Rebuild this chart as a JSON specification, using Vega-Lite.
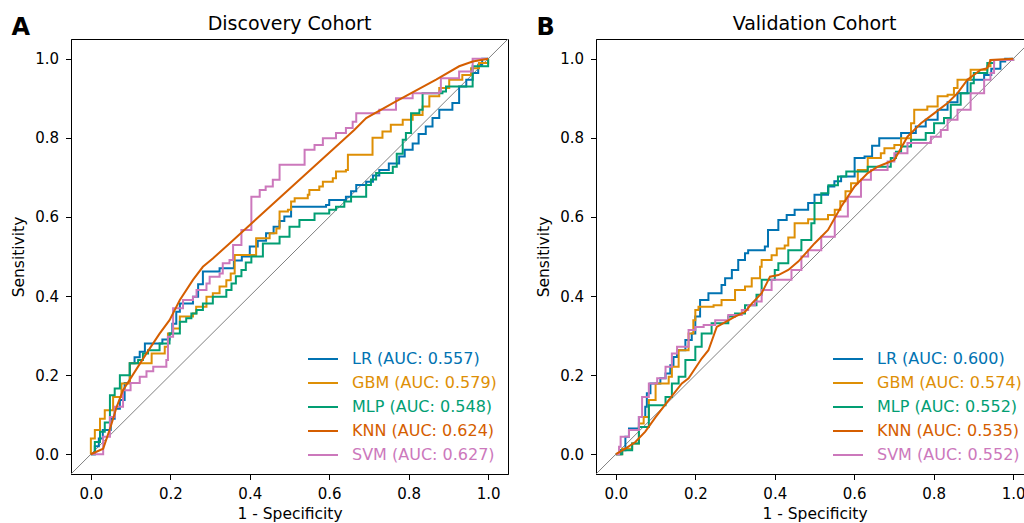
{
  "$schema": "https://vega.github.io/schema/vega-lite/v6.json",
  "padding": {"left": 10, "top": 14, "right": 0, "bottom": 0},
  "spacing": 26,
  "datasets": {
    "diag": [{"x": -0.05, "y": -0.05}, {"x": 1.05, "y": 1.05}],
    "disc": [
      {"m":"LR","x":0,"y":0},{"m":"LR","x":0.01,"y":0.02},{"m":"LR","x":0.02,"y":0.04},{"m":"LR","x":0.03,"y":0.061},{"m":"LR","x":0.05,"y":0.09},{"m":"LR","x":0.06,"y":0.115},{"m":"LR","x":0.073,"y":0.137},{"m":"LR","x":0.085,"y":0.18},{"m":"LR","x":0.098,"y":0.23},{"m":"LR","x":0.11,"y":0.245},{"m":"LR","x":0.123,"y":0.259},{"m":"LR","x":0.136,"y":0.28},{"m":"LR","x":0.165,"y":0.28},{"m":"LR","x":0.18,"y":0.29},{"m":"LR","x":0.198,"y":0.305},{"m":"LR","x":0.205,"y":0.33},{"m":"LR","x":0.215,"y":0.36},{"m":"LR","x":0.224,"y":0.381},{"m":"LR","x":0.257,"y":0.398},{"m":"LR","x":0.27,"y":0.43},{"m":"LR","x":0.282,"y":0.462},{"m":"LR","x":0.324,"y":0.47},{"m":"LR","x":0.349,"y":0.47},{"m":"LR","x":0.36,"y":0.49},{"m":"LR","x":0.38,"y":0.5},{"m":"LR","x":0.4,"y":0.525},{"m":"LR","x":0.42,"y":0.54},{"m":"LR","x":0.441,"y":0.559},{"m":"LR","x":0.46,"y":0.575},{"m":"LR","x":0.475,"y":0.59},{"m":"LR","x":0.487,"y":0.601},{"m":"LR","x":0.504,"y":0.626},{"m":"LR","x":0.592,"y":0.63},{"m":"LR","x":0.6,"y":0.643},{"m":"LR","x":0.642,"y":0.651},{"m":"LR","x":0.655,"y":0.665},{"m":"LR","x":0.668,"y":0.681},{"m":"LR","x":0.693,"y":0.689},{"m":"LR","x":0.71,"y":0.705},{"m":"LR","x":0.726,"y":0.719},{"m":"LR","x":0.75,"y":0.735},{"m":"LR","x":0.776,"y":0.753},{"m":"LR","x":0.79,"y":0.77},{"m":"LR","x":0.81,"y":0.786},{"m":"LR","x":0.825,"y":0.81},{"m":"LR","x":0.843,"y":0.829},{"m":"LR","x":0.86,"y":0.85},{"m":"LR","x":0.877,"y":0.871},{"m":"LR","x":0.91,"y":0.888},{"m":"LR","x":0.927,"y":0.93},{"m":"LR","x":0.945,"y":0.947},{"m":"LR","x":0.961,"y":0.964},{"m":"LR","x":0.975,"y":0.985},{"m":"LR","x":0.985,"y":1.0},{"m":"LR","x":1,"y":1},
      {"m":"GBM","x":0,"y":0},{"m":"GBM","x":0,"y":0.04},{"m":"GBM","x":0.01,"y":0.061},{"m":"GBM","x":0.023,"y":0.09},{"m":"GBM","x":0.035,"y":0.111},{"m":"GBM","x":0.056,"y":0.145},{"m":"GBM","x":0.077,"y":0.179},{"m":"GBM","x":0.098,"y":0.23},{"m":"GBM","x":0.131,"y":0.23},{"m":"GBM","x":0.153,"y":0.255},{"m":"GBM","x":0.186,"y":0.272},{"m":"GBM","x":0.194,"y":0.305},{"m":"GBM","x":0.207,"y":0.318},{"m":"GBM","x":0.224,"y":0.348},{"m":"GBM","x":0.257,"y":0.356},{"m":"GBM","x":0.265,"y":0.373},{"m":"GBM","x":0.291,"y":0.398},{"m":"GBM","x":0.307,"y":0.407},{"m":"GBM","x":0.324,"y":0.424},{"m":"GBM","x":0.341,"y":0.44},{"m":"GBM","x":0.352,"y":0.457},{"m":"GBM","x":0.362,"y":0.504},{"m":"GBM","x":0.412,"y":0.504},{"m":"GBM","x":0.416,"y":0.546},{"m":"GBM","x":0.45,"y":0.559},{"m":"GBM","x":0.467,"y":0.571},{"m":"GBM","x":0.475,"y":0.614},{"m":"GBM","x":0.496,"y":0.618},{"m":"GBM","x":0.504,"y":0.639},{"m":"GBM","x":0.513,"y":0.647},{"m":"GBM","x":0.546,"y":0.656},{"m":"GBM","x":0.55,"y":0.668},{"m":"GBM","x":0.575,"y":0.677},{"m":"GBM","x":0.584,"y":0.689},{"m":"GBM","x":0.609,"y":0.698},{"m":"GBM","x":0.617,"y":0.715},{"m":"GBM","x":0.642,"y":0.719},{"m":"GBM","x":0.647,"y":0.757},{"m":"GBM","x":0.705,"y":0.757},{"m":"GBM","x":0.709,"y":0.8},{"m":"GBM","x":0.734,"y":0.816},{"m":"GBM","x":0.755,"y":0.833},{"m":"GBM","x":0.785,"y":0.846},{"m":"GBM","x":0.81,"y":0.858},{"m":"GBM","x":0.835,"y":0.879},{"m":"GBM","x":0.852,"y":0.905},{"m":"GBM","x":0.877,"y":0.926},{"m":"GBM","x":0.902,"y":0.947},{"m":"GBM","x":0.935,"y":0.959},{"m":"GBM","x":0.957,"y":0.976},{"m":"GBM","x":0.977,"y":0.989},{"m":"GBM","x":1,"y":1},
      {"m":"MLP","x":0,"y":0},{"m":"MLP","x":0.01,"y":0.031},{"m":"MLP","x":0.023,"y":0.057},{"m":"MLP","x":0.035,"y":0.08},{"m":"MLP","x":0.048,"y":0.149},{"m":"MLP","x":0.06,"y":0.166},{"m":"MLP","x":0.073,"y":0.2},{"m":"MLP","x":0.098,"y":0.23},{"m":"MLP","x":0.119,"y":0.238},{"m":"MLP","x":0.131,"y":0.255},{"m":"MLP","x":0.144,"y":0.263},{"m":"MLP","x":0.173,"y":0.28},{"m":"MLP","x":0.198,"y":0.305},{"m":"MLP","x":0.224,"y":0.335},{"m":"MLP","x":0.24,"y":0.344},{"m":"MLP","x":0.253,"y":0.356},{"m":"MLP","x":0.266,"y":0.365},{"m":"MLP","x":0.282,"y":0.381},{"m":"MLP","x":0.307,"y":0.398},{"m":"MLP","x":0.341,"y":0.415},{"m":"MLP","x":0.354,"y":0.432},{"m":"MLP","x":0.365,"y":0.45},{"m":"MLP","x":0.379,"y":0.466},{"m":"MLP","x":0.39,"y":0.485},{"m":"MLP","x":0.404,"y":0.5},{"m":"MLP","x":0.433,"y":0.533},{"m":"MLP","x":0.475,"y":0.55},{"m":"MLP","x":0.5,"y":0.575},{"m":"MLP","x":0.525,"y":0.592},{"m":"MLP","x":0.563,"y":0.609},{"m":"MLP","x":0.6,"y":0.618},{"m":"MLP","x":0.617,"y":0.626},{"m":"MLP","x":0.638,"y":0.639},{"m":"MLP","x":0.655,"y":0.651},{"m":"MLP","x":0.693,"y":0.681},{"m":"MLP","x":0.705,"y":0.695},{"m":"MLP","x":0.718,"y":0.711},{"m":"MLP","x":0.76,"y":0.727},{"m":"MLP","x":0.77,"y":0.76},{"m":"MLP","x":0.785,"y":0.795},{"m":"MLP","x":0.793,"y":0.812},{"m":"MLP","x":0.806,"y":0.862},{"m":"MLP","x":0.827,"y":0.871},{"m":"MLP","x":0.835,"y":0.913},{"m":"MLP","x":0.885,"y":0.917},{"m":"MLP","x":0.894,"y":0.93},{"m":"MLP","x":0.961,"y":0.93},{"m":"MLP","x":0.961,"y":0.981},{"m":"MLP","x":1,"y":1},
      {"m":"KNN","x":0,"y":0},{"m":"KNN","x":0.031,"y":0.014},{"m":"KNN","x":0.05,"y":0.07},{"m":"KNN","x":0.065,"y":0.12},{"m":"KNN","x":0.081,"y":0.162},{"m":"KNN","x":0.14,"y":0.255},{"m":"KNN","x":0.173,"y":0.305},{"m":"KNN","x":0.198,"y":0.339},{"m":"KNN","x":0.224,"y":0.39},{"m":"KNN","x":0.257,"y":0.441},{"m":"KNN","x":0.282,"y":0.474},{"m":"KNN","x":0.307,"y":0.495},{"m":"KNN","x":0.349,"y":0.533},{"m":"KNN","x":0.663,"y":0.82},{"m":"KNN","x":0.693,"y":0.85},{"m":"KNN","x":0.768,"y":0.892},{"m":"KNN","x":0.869,"y":0.947},{"m":"KNN","x":0.927,"y":0.981},{"m":"KNN","x":0.961,"y":0.993},{"m":"KNN","x":1,"y":1},
      {"m":"SVM","x":0,"y":0},{"m":"SVM","x":0.031,"y":0.01},{"m":"SVM","x":0.031,"y":0.044},{"m":"SVM","x":0.048,"y":0.094},{"m":"SVM","x":0.06,"y":0.12},{"m":"SVM","x":0.081,"y":0.162},{"m":"SVM","x":0.1,"y":0.18},{"m":"SVM","x":0.123,"y":0.196},{"m":"SVM","x":0.14,"y":0.21},{"m":"SVM","x":0.157,"y":0.221},{"m":"SVM","x":0.19,"y":0.238},{"m":"SVM","x":0.194,"y":0.297},{"m":"SVM","x":0.207,"y":0.369},{"m":"SVM","x":0.228,"y":0.369},{"m":"SVM","x":0.232,"y":0.39},{"m":"SVM","x":0.257,"y":0.398},{"m":"SVM","x":0.266,"y":0.415},{"m":"SVM","x":0.291,"y":0.432},{"m":"SVM","x":0.299,"y":0.449},{"m":"SVM","x":0.324,"y":0.457},{"m":"SVM","x":0.332,"y":0.483},{"m":"SVM","x":0.349,"y":0.491},{"m":"SVM","x":0.358,"y":0.529},{"m":"SVM","x":0.379,"y":0.567},{"m":"SVM","x":0.404,"y":0.584},{"m":"SVM","x":0.404,"y":0.651},{"m":"SVM","x":0.425,"y":0.668},{"m":"SVM","x":0.44,"y":0.677},{"m":"SVM","x":0.458,"y":0.694},{"m":"SVM","x":0.475,"y":0.732},{"m":"SVM","x":0.525,"y":0.732},{"m":"SVM","x":0.538,"y":0.77},{"m":"SVM","x":0.563,"y":0.782},{"m":"SVM","x":0.584,"y":0.799},{"m":"SVM","x":0.617,"y":0.812},{"m":"SVM","x":0.642,"y":0.825},{"m":"SVM","x":0.659,"y":0.841},{"m":"SVM","x":0.668,"y":0.862},{"m":"SVM","x":0.726,"y":0.871},{"m":"SVM","x":0.768,"y":0.884},{"m":"SVM","x":0.768,"y":0.9},{"m":"SVM","x":0.81,"y":0.913},{"m":"SVM","x":0.877,"y":0.917},{"m":"SVM","x":0.881,"y":0.951},{"m":"SVM","x":0.927,"y":0.968},{"m":"SVM","x":0.961,"y":0.968},{"m":"SVM","x":0.961,"y":1.0},{"m":"SVM","x":1,"y":1}
    ],
    "val": [
      {"m":"LR","x":0,"y":0},{"m":"LR","x":0.012,"y":0.01},{"m":"LR","x":0.024,"y":0.044},{"m":"LR","x":0.033,"y":0.065},{"m":"LR","x":0.058,"y":0.094},{"m":"LR","x":0.074,"y":0.12},{"m":"LR","x":0.078,"y":0.154},{"m":"LR","x":0.087,"y":0.179},{"m":"LR","x":0.112,"y":0.192},{"m":"LR","x":0.125,"y":0.204},{"m":"LR","x":0.137,"y":0.225},{"m":"LR","x":0.145,"y":0.246},{"m":"LR","x":0.154,"y":0.263},{"m":"LR","x":0.175,"y":0.289},{"m":"LR","x":0.191,"y":0.305},{"m":"LR","x":0.2,"y":0.348},{"m":"LR","x":0.212,"y":0.39},{"m":"LR","x":0.233,"y":0.407},{"m":"LR","x":0.254,"y":0.407},{"m":"LR","x":0.266,"y":0.428},{"m":"LR","x":0.275,"y":0.445},{"m":"LR","x":0.292,"y":0.466},{"m":"LR","x":0.308,"y":0.491},{"m":"LR","x":0.325,"y":0.508},{"m":"LR","x":0.333,"y":0.516},{"m":"LR","x":0.375,"y":0.525},{"m":"LR","x":0.383,"y":0.567},{"m":"LR","x":0.409,"y":0.592},{"m":"LR","x":0.43,"y":0.605},{"m":"LR","x":0.45,"y":0.618},{"m":"LR","x":0.484,"y":0.635},{"m":"LR","x":0.5,"y":0.656},{"m":"LR","x":0.534,"y":0.677},{"m":"LR","x":0.55,"y":0.69},{"m":"LR","x":0.567,"y":0.702},{"m":"LR","x":0.601,"y":0.749},{"m":"LR","x":0.626,"y":0.753},{"m":"LR","x":0.645,"y":0.78},{"m":"LR","x":0.663,"y":0.799},{"m":"LR","x":0.718,"y":0.812},{"m":"LR","x":0.755,"y":0.829},{"m":"LR","x":0.78,"y":0.846},{"m":"LR","x":0.81,"y":0.871},{"m":"LR","x":0.835,"y":0.89},{"m":"LR","x":0.86,"y":0.913},{"m":"LR","x":0.885,"y":0.947},{"m":"LR","x":0.927,"y":0.959},{"m":"LR","x":0.945,"y":0.975},{"m":"LR","x":0.968,"y":0.993},{"m":"LR","x":0.98,"y":1.0},{"m":"LR","x":1,"y":1},
      {"m":"GBM","x":0,"y":0},{"m":"GBM","x":0.016,"y":0.014},{"m":"GBM","x":0.041,"y":0.027},{"m":"GBM","x":0.058,"y":0.078},{"m":"GBM","x":0.07,"y":0.094},{"m":"GBM","x":0.083,"y":0.137},{"m":"GBM","x":0.1,"y":0.162},{"m":"GBM","x":0.1,"y":0.179},{"m":"GBM","x":0.133,"y":0.196},{"m":"GBM","x":0.141,"y":0.221},{"m":"GBM","x":0.158,"y":0.263},{"m":"GBM","x":0.183,"y":0.305},{"m":"GBM","x":0.195,"y":0.339},{"m":"GBM","x":0.2,"y":0.365},{"m":"GBM","x":0.208,"y":0.373},{"m":"GBM","x":0.246,"y":0.377},{"m":"GBM","x":0.266,"y":0.39},{"m":"GBM","x":0.3,"y":0.415},{"m":"GBM","x":0.325,"y":0.424},{"m":"GBM","x":0.342,"y":0.445},{"m":"GBM","x":0.363,"y":0.474},{"m":"GBM","x":0.367,"y":0.491},{"m":"GBM","x":0.392,"y":0.503},{"m":"GBM","x":0.405,"y":0.52},{"m":"GBM","x":0.425,"y":0.528},{"m":"GBM","x":0.434,"y":0.548},{"m":"GBM","x":0.45,"y":0.584},{"m":"GBM","x":0.484,"y":0.594},{"m":"GBM","x":0.534,"y":0.605},{"m":"GBM","x":0.551,"y":0.618},{"m":"GBM","x":0.565,"y":0.64},{"m":"GBM","x":0.578,"y":0.665},{"m":"GBM","x":0.592,"y":0.685},{"m":"GBM","x":0.609,"y":0.719},{"m":"GBM","x":0.634,"y":0.749},{"m":"GBM","x":0.667,"y":0.761},{"m":"GBM","x":0.676,"y":0.774},{"m":"GBM","x":0.701,"y":0.782},{"m":"GBM","x":0.718,"y":0.799},{"m":"GBM","x":0.743,"y":0.837},{"m":"GBM","x":0.751,"y":0.871},{"m":"GBM","x":0.784,"y":0.879},{"m":"GBM","x":0.81,"y":0.905},{"m":"GBM","x":0.835,"y":0.909},{"m":"GBM","x":0.851,"y":0.926},{"m":"GBM","x":0.86,"y":0.947},{"m":"GBM","x":0.893,"y":0.972},{"m":"GBM","x":0.935,"y":0.981},{"m":"GBM","x":0.943,"y":0.997},{"m":"GBM","x":1,"y":1},
      {"m":"MLP","x":0,"y":0},{"m":"MLP","x":0.016,"y":0.01},{"m":"MLP","x":0.041,"y":0.027},{"m":"MLP","x":0.058,"y":0.069},{"m":"MLP","x":0.083,"y":0.124},{"m":"MLP","x":0.1,"y":0.124},{"m":"MLP","x":0.125,"y":0.145},{"m":"MLP","x":0.141,"y":0.179},{"m":"MLP","x":0.158,"y":0.196},{"m":"MLP","x":0.175,"y":0.238},{"m":"MLP","x":0.2,"y":0.272},{"m":"MLP","x":0.216,"y":0.305},{"m":"MLP","x":0.241,"y":0.331},{"m":"MLP","x":0.283,"y":0.348},{"m":"MLP","x":0.3,"y":0.356},{"m":"MLP","x":0.325,"y":0.377},{"m":"MLP","x":0.354,"y":0.403},{"m":"MLP","x":0.367,"y":0.441},{"m":"MLP","x":0.4,"y":0.466},{"m":"MLP","x":0.409,"y":0.483},{"m":"MLP","x":0.434,"y":0.5},{"m":"MLP","x":0.434,"y":0.516},{"m":"MLP","x":0.467,"y":0.542},{"m":"MLP","x":0.492,"y":0.584},{"m":"MLP","x":0.5,"y":0.635},{"m":"MLP","x":0.517,"y":0.66},{"m":"MLP","x":0.535,"y":0.68},{"m":"MLP","x":0.559,"y":0.702},{"m":"MLP","x":0.58,"y":0.715},{"m":"MLP","x":0.626,"y":0.715},{"m":"MLP","x":0.634,"y":0.727},{"m":"MLP","x":0.667,"y":0.727},{"m":"MLP","x":0.692,"y":0.749},{"m":"MLP","x":0.705,"y":0.765},{"m":"MLP","x":0.718,"y":0.778},{"m":"MLP","x":0.743,"y":0.795},{"m":"MLP","x":0.776,"y":0.795},{"m":"MLP","x":0.78,"y":0.812},{"m":"MLP","x":0.801,"y":0.837},{"m":"MLP","x":0.826,"y":0.85},{"m":"MLP","x":0.843,"y":0.884},{"m":"MLP","x":0.868,"y":0.913},{"m":"MLP","x":0.893,"y":0.938},{"m":"MLP","x":0.901,"y":0.964},{"m":"MLP","x":0.935,"y":0.989},{"m":"MLP","x":0.952,"y":0.997},{"m":"MLP","x":1,"y":1},
      {"m":"KNN","x":0,"y":0},{"m":"KNN","x":0.024,"y":0.014},{"m":"KNN","x":0.049,"y":0.031},{"m":"KNN","x":0.074,"y":0.057},{"m":"KNN","x":0.1,"y":0.094},{"m":"KNN","x":0.133,"y":0.137},{"m":"KNN","x":0.166,"y":0.179},{"m":"KNN","x":0.183,"y":0.192},{"m":"KNN","x":0.216,"y":0.242},{"m":"KNN","x":0.233,"y":0.263},{"m":"KNN","x":0.254,"y":0.322},{"m":"KNN","x":0.3,"y":0.348},{"m":"KNN","x":0.325,"y":0.36},{"m":"KNN","x":0.342,"y":0.381},{"m":"KNN","x":0.367,"y":0.407},{"m":"KNN","x":0.388,"y":0.449},{"m":"KNN","x":0.409,"y":0.453},{"m":"KNN","x":0.434,"y":0.466},{"m":"KNN","x":0.459,"y":0.487},{"m":"KNN","x":0.5,"y":0.533},{"m":"KNN","x":0.534,"y":0.567},{"m":"KNN","x":0.567,"y":0.626},{"m":"KNN","x":0.601,"y":0.677},{"m":"KNN","x":0.634,"y":0.711},{"m":"KNN","x":0.659,"y":0.727},{"m":"KNN","x":0.701,"y":0.744},{"m":"KNN","x":0.734,"y":0.803},{"m":"KNN","x":0.768,"y":0.837},{"m":"KNN","x":0.801,"y":0.862},{"m":"KNN","x":0.835,"y":0.888},{"m":"KNN","x":0.86,"y":0.913},{"m":"KNN","x":0.885,"y":0.947},{"m":"KNN","x":0.918,"y":0.972},{"m":"KNN","x":0.935,"y":0.976},{"m":"KNN","x":0.943,"y":0.997},{"m":"KNN","x":1,"y":1},
      {"m":"SVM","x":0,"y":0},{"m":"SVM","x":0.008,"y":0.019},{"m":"SVM","x":0.012,"y":0.044},{"m":"SVM","x":0.033,"y":0.061},{"m":"SVM","x":0.058,"y":0.094},{"m":"SVM","x":0.066,"y":0.145},{"m":"SVM","x":0.083,"y":0.179},{"m":"SVM","x":0.104,"y":0.192},{"m":"SVM","x":0.125,"y":0.221},{"m":"SVM","x":0.141,"y":0.255},{"m":"SVM","x":0.154,"y":0.272},{"m":"SVM","x":0.166,"y":0.272},{"m":"SVM","x":0.183,"y":0.314},{"m":"SVM","x":0.2,"y":0.322},{"m":"SVM","x":0.221,"y":0.327},{"m":"SVM","x":0.25,"y":0.339},{"m":"SVM","x":0.283,"y":0.352},{"m":"SVM","x":0.317,"y":0.365},{"m":"SVM","x":0.333,"y":0.377},{"m":"SVM","x":0.35,"y":0.386},{"m":"SVM","x":0.367,"y":0.415},{"m":"SVM","x":0.392,"y":0.441},{"m":"SVM","x":0.417,"y":0.441},{"m":"SVM","x":0.442,"y":0.466},{"m":"SVM","x":0.467,"y":0.5},{"m":"SVM","x":0.484,"y":0.516},{"m":"SVM","x":0.517,"y":0.55},{"m":"SVM","x":0.551,"y":0.601},{"m":"SVM","x":0.584,"y":0.651},{"m":"SVM","x":0.617,"y":0.694},{"m":"SVM","x":0.642,"y":0.719},{"m":"SVM","x":0.684,"y":0.74},{"m":"SVM","x":0.701,"y":0.761},{"m":"SVM","x":0.734,"y":0.787},{"m":"SVM","x":0.784,"y":0.787},{"m":"SVM","x":0.793,"y":0.803},{"m":"SVM","x":0.818,"y":0.82},{"m":"SVM","x":0.835,"y":0.846},{"m":"SVM","x":0.86,"y":0.871},{"m":"SVM","x":0.893,"y":0.913},{"m":"SVM","x":0.927,"y":0.947},{"m":"SVM","x":0.943,"y":0.964},{"m":"SVM","x":0.952,"y":0.997},{"m":"SVM","x":1,"y":1}
    ]
  },
  "resolve": {"legend": {"color": "independent"}},
  "hconcat": [
    {
      "width": 437, "height": 435,
      "title": {"text": "Discovery Cohort"},
      "resolve": {"axis": {"x": "independent"}},
      "layer": [
        {
          "data": {"name": "diag"},
          "mark": {"type": "line", "color": "#808080", "strokeWidth": 1, "clip": true},
          "encoding": {
            "x": {"field": "x", "type": "quantitative", "scale": {"domain": [-0.05, 1.05], "nice": false, "zero": false},
                  "axis": {"title": "1 - Specificity", "values": [0, 0.2, 0.4, 0.6, 0.8, 1], "format": ".1f", "titlePadding": 5}},
            "y": {"field": "y", "type": "quantitative", "scale": {"domain": [-0.05, 1.05], "nice": false, "zero": false},
                  "axis": {"title": "Sensitivity", "values": [0, 0.2, 0.4, 0.6, 0.8, 1], "format": ".1f", "titlePadding": 8}}
          }
        },
        {
          "data": {"name": "disc"},
          "transform": [{"filter": "datum.m != 'KNN'"}],
          "mark": {"type": "line", "interpolate": "step-after", "strokeWidth": 2, "clip": true},
          "encoding": {
            "x": {"field": "x", "type": "quantitative", "scale": {"domain": [-0.05, 1.05], "nice": false, "zero": false}, "axis": null},
            "y": {"field": "y", "type": "quantitative", "scale": {"domain": [-0.05, 1.05], "nice": false, "zero": false},
                  "axis": {"title": "Sensitivity", "values": [0, 0.2, 0.4, 0.6, 0.8, 1], "format": ".1f", "titlePadding": 8}},
            "color": {"field": "m", "type": "nominal",
                      "scale": {"domain": ["LR", "GBM", "MLP", "KNN", "SVM"], "range": ["#0173b2", "#de8f05", "#029e73", "#d55e00", "#cc78bc"]},
                      "legend": {"labelExpr": "datum.value == 'LR' ? 'LR (AUC: 0.557)' : datum.value == 'GBM' ? 'GBM (AUC: 0.579)' : datum.value == 'MLP' ? 'MLP (AUC: 0.548)' : datum.value == 'KNN' ? 'KNN (AUC: 0.624)' : 'SVM (AUC: 0.627)'",
                                 "encode": {"labels": {"update": {"fill": {"signal": "datum.value == 'LR' ? '#0173b2' : datum.value == 'GBM' ? '#de8f05' : datum.value == 'MLP' ? '#029e73' : datum.value == 'KNN' ? '#d55e00' : '#cc78bc'"}}}}}},
            "order": {"value": null}
          }
        },
        {
          "data": {"name": "disc"},
          "transform": [{"filter": "datum.m == 'KNN'"}],
          "mark": {"type": "line", "strokeWidth": 2, "clip": true},
          "encoding": {
            "x": {"field": "x", "type": "quantitative", "scale": {"domain": [-0.05, 1.05], "nice": false, "zero": false},
                  "axis": {"orient": "top", "title": "A", "labels": false, "ticks": false, "domain": false, "titleFontSize": 24, "titleFontWeight": "bold", "titleX": -60, "titleY": -5, "titleAlign": "left", "titleBaseline": "alphabetic"}},
            "y": {"field": "y", "type": "quantitative", "scale": {"domain": [-0.05, 1.05], "nice": false, "zero": false},
                  "axis": {"title": "Sensitivity", "values": [0, 0.2, 0.4, 0.6, 0.8, 1], "format": ".1f", "titlePadding": 8}},
            "color": {"field": "m", "type": "nominal",
                      "scale": {"domain": ["LR", "GBM", "MLP", "KNN", "SVM"], "range": ["#0173b2", "#de8f05", "#029e73", "#d55e00", "#cc78bc"]},
                      "legend": {"labelExpr": "datum.value == 'LR' ? 'LR (AUC: 0.557)' : datum.value == 'GBM' ? 'GBM (AUC: 0.579)' : datum.value == 'MLP' ? 'MLP (AUC: 0.548)' : datum.value == 'KNN' ? 'KNN (AUC: 0.624)' : 'SVM (AUC: 0.627)'",
                                 "encode": {"labels": {"update": {"fill": {"signal": "datum.value == 'LR' ? '#0173b2' : datum.value == 'GBM' ? '#de8f05' : datum.value == 'MLP' ? '#029e73' : datum.value == 'KNN' ? '#d55e00' : '#cc78bc'"}}}}}},
            "order": {"value": null}
          }
        }
      ]
    },
    {
      "width": 437, "height": 435,
      "title": {"text": "Validation Cohort"},
      "resolve": {"axis": {"x": "independent"}},
      "layer": [
        {
          "data": {"name": "diag"},
          "mark": {"type": "line", "color": "#808080", "strokeWidth": 1, "clip": true},
          "encoding": {
            "x": {"field": "x", "type": "quantitative", "scale": {"domain": [-0.05, 1.05], "nice": false, "zero": false},
                  "axis": {"title": "1 - Specificity", "values": [0, 0.2, 0.4, 0.6, 0.8, 1], "format": ".1f", "titlePadding": 5}},
            "y": {"field": "y", "type": "quantitative", "scale": {"domain": [-0.05, 1.05], "nice": false, "zero": false},
                  "axis": {"title": "Sensitivity", "values": [0, 0.2, 0.4, 0.6, 0.8, 1], "format": ".1f", "titlePadding": 8}}
          }
        },
        {
          "data": {"name": "val"},
          "transform": [{"filter": "datum.m != 'KNN'"}],
          "mark": {"type": "line", "interpolate": "step-after", "strokeWidth": 2, "clip": true},
          "encoding": {
            "x": {"field": "x", "type": "quantitative", "scale": {"domain": [-0.05, 1.05], "nice": false, "zero": false}, "axis": null},
            "y": {"field": "y", "type": "quantitative", "scale": {"domain": [-0.05, 1.05], "nice": false, "zero": false},
                  "axis": {"title": "Sensitivity", "values": [0, 0.2, 0.4, 0.6, 0.8, 1], "format": ".1f", "titlePadding": 8}},
            "color": {"field": "m", "type": "nominal",
                      "scale": {"domain": ["LR", "GBM", "MLP", "KNN", "SVM"], "range": ["#0173b2", "#de8f05", "#029e73", "#d55e00", "#cc78bc"]},
                      "legend": {"labelExpr": "datum.value == 'LR' ? 'LR (AUC: 0.600)' : datum.value == 'GBM' ? 'GBM (AUC: 0.574)' : datum.value == 'MLP' ? 'MLP (AUC: 0.552)' : datum.value == 'KNN' ? 'KNN (AUC: 0.535)' : 'SVM (AUC: 0.552)'",
                                 "encode": {"labels": {"update": {"fill": {"signal": "datum.value == 'LR' ? '#0173b2' : datum.value == 'GBM' ? '#de8f05' : datum.value == 'MLP' ? '#029e73' : datum.value == 'KNN' ? '#d55e00' : '#cc78bc'"}}}}}},
            "order": {"value": null}
          }
        },
        {
          "data": {"name": "val"},
          "transform": [{"filter": "datum.m == 'KNN'"}],
          "mark": {"type": "line", "strokeWidth": 2, "clip": true},
          "encoding": {
            "x": {"field": "x", "type": "quantitative", "scale": {"domain": [-0.05, 1.05], "nice": false, "zero": false},
                  "axis": {"orient": "top", "title": "B", "labels": false, "ticks": false, "domain": false, "titleFontSize": 24, "titleFontWeight": "bold", "titleX": -60, "titleY": -5, "titleAlign": "left", "titleBaseline": "alphabetic"}},
            "y": {"field": "y", "type": "quantitative", "scale": {"domain": [-0.05, 1.05], "nice": false, "zero": false},
                  "axis": {"title": "Sensitivity", "values": [0, 0.2, 0.4, 0.6, 0.8, 1], "format": ".1f", "titlePadding": 8}},
            "color": {"field": "m", "type": "nominal",
                      "scale": {"domain": ["LR", "GBM", "MLP", "KNN", "SVM"], "range": ["#0173b2", "#de8f05", "#029e73", "#d55e00", "#cc78bc"]},
                      "legend": {"labelExpr": "datum.value == 'LR' ? 'LR (AUC: 0.600)' : datum.value == 'GBM' ? 'GBM (AUC: 0.574)' : datum.value == 'MLP' ? 'MLP (AUC: 0.552)' : datum.value == 'KNN' ? 'KNN (AUC: 0.535)' : 'SVM (AUC: 0.552)'",
                                 "encode": {"labels": {"update": {"fill": {"signal": "datum.value == 'LR' ? '#0173b2' : datum.value == 'GBM' ? '#de8f05' : datum.value == 'MLP' ? '#029e73' : datum.value == 'KNN' ? '#d55e00' : '#cc78bc'"}}}}}},
            "order": {"value": null}
          }
        }
      ]
    }
  ],
  "config": {
    "font": "DejaVu Sans",
    "view": {"stroke": "#000000", "strokeWidth": 1},
    "title": {"fontSize": 19, "fontWeight": "normal", "color": "#000000", "font": "DejaVu Sans", "offset": -19},
    "axis": {"labelFont": "DejaVu Sans", "labelFontSize": 15, "labelColor": "#000000", "titleFont": "DejaVu Sans", "titleFontSize": 15.5, "titleFontWeight": "normal", "titleColor": "#000000", "tickColor": "#000000", "domainColor": "#000000", "tickSize": 5.5, "labelPadding": 7, "grid": false},
    "legend": {"orient": "bottom-right", "offset": 11, "padding": 0, "title": null, "symbolType": "stroke", "symbolSize": 900, "symbolStrokeWidth": 2, "labelFont": "DejaVu Sans", "labelFontSize": 16, "labelOffset": 13, "rowPadding": -10},
    "line": {"strokeCap": "butt"}
  }
}
